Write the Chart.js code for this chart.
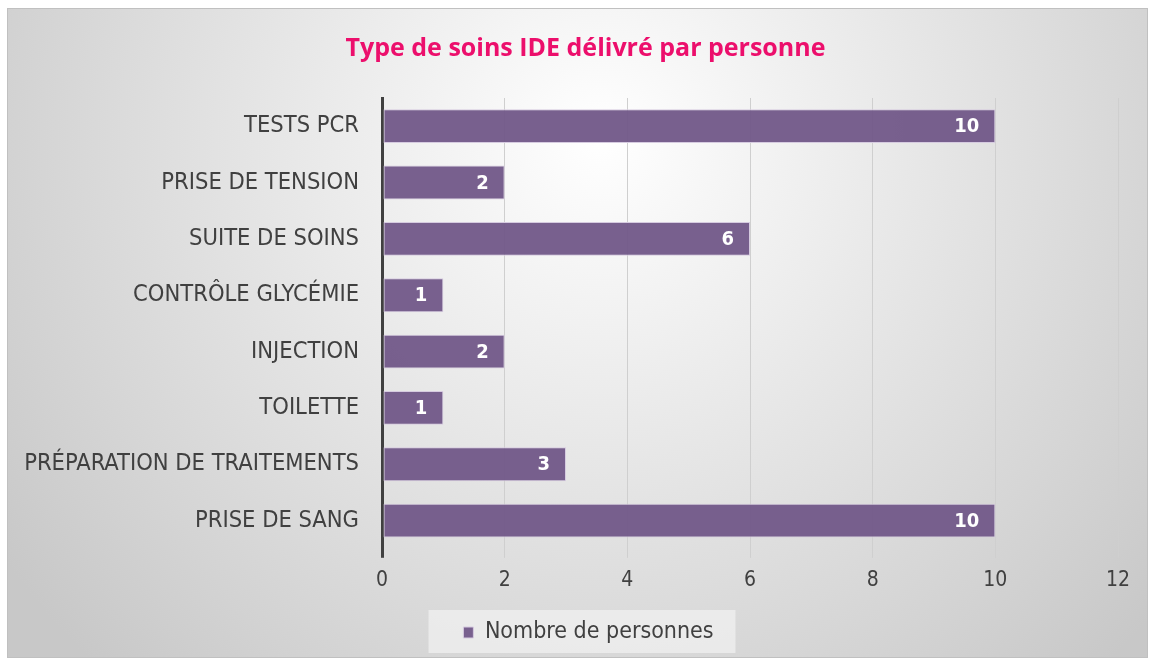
<!DOCTYPE html>
<html lang="fr">
<head>
<meta charset="utf-8">
<script src="https://cdn.jsdelivr.net/npm/chart.js@4/dist/chart.umd.min.js"></script>
<style>
  html, body { margin: 0; padding: 0; background: #fff; }
  #wrap { position: absolute; left: 7px; top: 8px; width: 1141px; height: 650px; }
</style>
</head>
<body>
<div id="wrap"><canvas id="chart"></canvas></div>
<script>
'use strict';

// ── Data ──────────────────────────────────────────────
const categories = [
  'TESTS PCR',
  'PRISE DE TENSION',
  'SUITE DE SOINS',
  'CONTRÔLE GLYCÉMIE',
  'INJECTION',
  'TOILETTE',
  'PRÉPARATION DE TRAITEMENTS',
  'PRISE DE SANG',
];
const personnes = [10, 2, 6, 1, 2, 1, 3, 10];
const xTicks = [0, 2, 4, 6, 8, 10, 12];

const COND = "'DejaVu Sans Condensed', 'Liberation Sans Narrow', 'Roboto Condensed', 'DejaVu Sans', sans-serif";
const BAR = 'rgba(114, 90, 137, 0.96)';

// ── Background + legend panel ─────────────────────────
const backdrop = {
  id: 'backdrop',
  afterLayout(chart) {
    // nudge title and legend a little to the right, like the original
    const t = chart.titleBlock, l = chart.legend;
    if (t) { t.left += 23; t.right += 23; }
    if (l) { l.left += 26; l.right += 26; }
  },
  beforeDraw(chart) {
    const { ctx, width, height, legend } = chart;
    ctx.save();
    const g = ctx.createRadialGradient(width * 0.52, height * 0.2, 0, width * 0.52, height * 0.2, width * 0.64);
    g.addColorStop(0, '#ffffff');
    g.addColorStop(1, '#c8c8c8');
    ctx.fillStyle = g;
    ctx.fillRect(0, 0, width, height);
    ctx.strokeStyle = '#c0c0c0';
    ctx.lineWidth = 1;
    ctx.strokeRect(0.5, 0.5, width - 1, height - 1);
    if (legend) {
      const cx = (legend.left + legend.right) / 2;
      ctx.fillStyle = 'rgba(240,240,240,0.75)';
      ctx.fillRect(cx - 160, legend.top + 7, 307, 43);
    }
    ctx.restore();
  },
};

// ── Value labels inside bar ends ──────────────────────
const valueLabels = {
  id: 'valueLabels',
  afterDatasetsDraw(chart) {
    const { ctx } = chart;
    const meta = chart.getDatasetMeta(0);
    ctx.save();
    ctx.fillStyle = '#ffffff';
    ctx.font = 'bold 20px ' + COND;
    ctx.textAlign = 'right';
    ctx.textBaseline = 'middle';
    meta.data.forEach((bar, i) => {
      ctx.fillText(String(personnes[i]), bar.x - 16, bar.y + 1);
    });
    ctx.restore();
  },
};

new Chart(document.getElementById('chart'), {
  type: 'bar',
  data: {
    labels: categories,
    datasets: [{
      label: 'Nombre de personnes',
      data: personnes,
      backgroundColor: BAR,
      borderColor: '#d6cbe0',
      borderWidth: 1,
      borderSkipped: false,
      barPercentage: 0.6,
      categoryPercentage: 1,
    }],
  },
  options: {
    indexAxis: 'y',
    responsive: true,
    maintainAspectRatio: false,
    animation: false,
    layout: { padding: { left: 0, right: 30, top: 0, bottom: 4 } },
    scales: {
      x: {
        min: 0, max: 12,
        afterBuildTicks: axis => { axis.ticks = xTicks.map(v => ({ value: v })); },
        grid: {
          color: c => (c.tick && c.tick.value === 0 ? '#404040' : '#cfcfcf'),
          lineWidth: c => (c.tick && c.tick.value === 0 ? 3 : 1),
          tickLength: 9,
          drawOnChartArea: true,
        },
        border: { display: false },
        ticks: { color: '#404040', font: { family: COND, size: 21 }, padding: 10 },
      },
      y: {
        afterFit: axis => { axis.width = 375; },
        grid: { display: false },
        border: { display: true, color: '#404040', width: 3 },
        ticks: { color: '#404040', font: { family: COND, size: 23.5 }, padding: 15 },
      },
    },
    plugins: {
      title: {
        display: true,
        text: 'Type de soins IDE délivré par personne',
        color: '#ec0f6c',
        font: { family: "'Open Sans', sans-serif", size: 25, weight: 'bold' },
        padding: { top: 26, bottom: 34 },
      },
      legend: {
        display: true,
        position: 'bottom',
        labels: {
          color: '#404040',
          font: { family: COND, size: 23 },
          boxWidth: 10, boxHeight: 11,
          padding: 18,
        },
      },
      tooltip: { enabled: false },
    },
  },
  plugins: [backdrop, valueLabels],
});
</script>
</body>
</html>
